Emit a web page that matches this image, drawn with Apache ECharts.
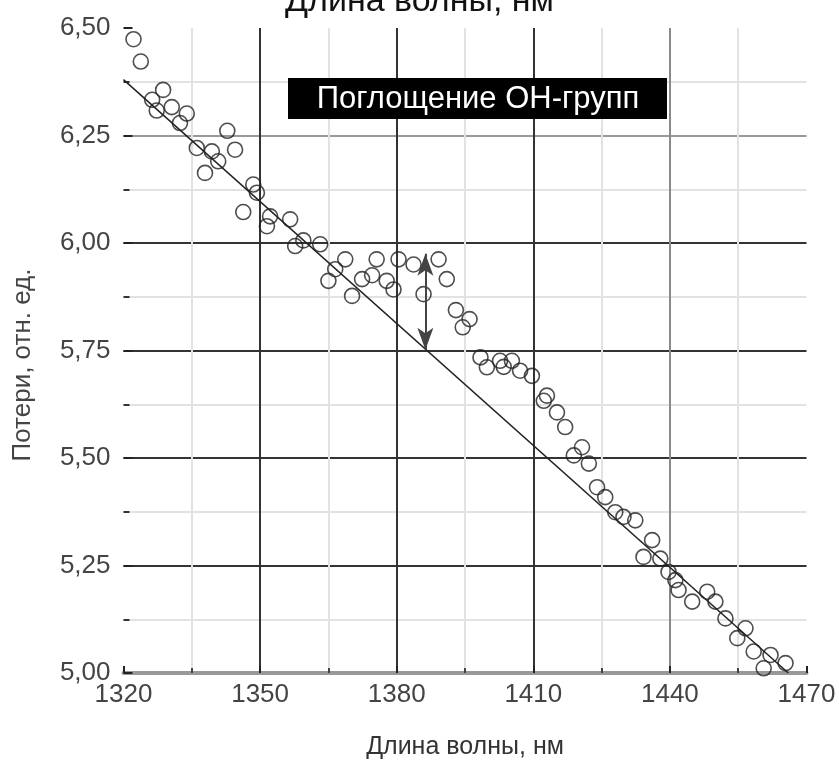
<!DOCTYPE html>
<html>
<head>
<meta charset="utf-8">
<script src="https://cdn.jsdelivr.net/npm/echarts@6/dist/echarts.min.js"></script>
<style>
html,body{margin:0;padding:0;background:#fff;}
#chart{width:839px;height:765px;}
</style>
</head>
<body>
<div id="chart"></div>
<script>
// ---- data ----
var titleText = 'Длина волны, нм';
var xAxisName = 'Длина волны, нм';
var yAxisName = 'Потери, отн. ед.';
var boxLabel = 'Поглощение ОН-групп';

var xTicks = [1320, 1350, 1380, 1410, 1440, 1470];
var yTicks = ['5,00', '5,25', '5,50', '5,75', '6,00', '6,25', '6,50'];

var measured = [
  [1322.2, 6.474], [1323.8, 6.422], [1328.7, 6.356], [1326.3, 6.333], [1327.3, 6.308],
  [1330.6, 6.316], [1333.9, 6.301], [1332.4, 6.279], [1342.8, 6.261], [1344.5, 6.217],
  [1339.4, 6.213], [1336.1, 6.221], [1340.8, 6.190], [1337.9, 6.163], [1348.5, 6.136],
  [1349.3, 6.117], [1346.3, 6.072], [1352.2, 6.062], [1356.6, 6.055], [1351.5, 6.039],
  [1359.5, 6.006], [1363.2, 5.997], [1357.7, 5.993], [1368.7, 5.962], [1366.5, 5.939],
  [1365.0, 5.912], [1375.6, 5.962], [1372.4, 5.916], [1374.6, 5.925], [1370.2, 5.877],
  [1377.8, 5.912], [1379.3, 5.892], [1380.4, 5.962], [1383.7, 5.950], [1389.2, 5.962],
  [1391.0, 5.916], [1385.9, 5.881], [1393.0, 5.844], [1396.0, 5.823], [1394.5, 5.804],
  [1398.4, 5.734], [1399.8, 5.711], [1402.7, 5.726], [1405.3, 5.726], [1403.5, 5.712],
  [1407.1, 5.703], [1409.7, 5.691], [1413.0, 5.645], [1412.3, 5.633], [1415.2, 5.606],
  [1417.0, 5.572], [1420.7, 5.525], [1418.9, 5.506], [1422.2, 5.487], [1424.0, 5.432],
  [1425.8, 5.409], [1428.0, 5.374], [1429.8, 5.363], [1432.4, 5.355], [1436.1, 5.309],
  [1434.2, 5.270], [1437.9, 5.266], [1439.7, 5.235], [1441.2, 5.216], [1441.9, 5.193],
  [1444.9, 5.166], [1448.2, 5.189], [1450.0, 5.166], [1452.2, 5.127], [1456.6, 5.104],
  [1454.8, 5.081], [1458.4, 5.050], [1462.1, 5.042], [1460.6, 5.011], [1465.4, 5.023]
];

var trendLine = [[1320, 6.38], [1466, 5.0]];

var arrowX = 1386.3;
var arrowTop = 5.975;
var arrowBottom = 5.752;

// ---- chart ----
var chart = echarts.init(document.getElementById('chart'), null, {renderer: 'canvas'});
var font = 'Liberation Sans, Arial, sans-serif';

var option = {
  animation: false,
  backgroundColor: '#fff',
  grid: {left: 123.5, right: 32.5, top: 28, bottom: 90, containLabel: false},
  xAxis: {
    type: 'value',
    min: xTicks[0],
    max: xTicks[xTicks.length - 1],
    interval: 30,
    name: xAxisName,
    nameLocation: 'middle',
    nameGap: 62,
    nameTextStyle: {fontFamily: font, fontSize: 25, color: '#333'},
    axisLine: {show: true, lineStyle: {color: '#999', width: 4}},
    axisTick: {show: true, inside: true, length: 7, lineStyle: {color: '#222', width: 2}},
    minorTick: {show: true, splitNumber: 2, length: 5, lineStyle: {color: '#444', width: 2}},
    axisLabel: {
      fontFamily: font, fontSize: 26, color: '#444', margin: 9,
      formatter: function (v) { return xTicks.indexOf(v) >= 0 ? String(v) : ''; }
    },
    splitLine: {show: true, lineStyle: {color: ['rgba(0,0,0,0)', '#333', '#333', '#333', '#8a8a8a', 'rgba(0,0,0,0)'], width: 2}},
    minorSplitLine: {show: true, lineStyle: {color: '#e2e2e2', width: 2}}
  },
  yAxis: {
    type: 'value',
    min: 5.0,
    max: 6.5,
    interval: 0.25,
    axisLine: {show: false},
    axisTick: {show: true, inside: true, length: 9, lineStyle: {color: '#222', width: 2}},
    minorTick: {show: true, splitNumber: 2, length: 6, lineStyle: {color: '#333', width: 2}},
    axisLabel: {
      fontFamily: font, fontSize: 26, color: '#444', margin: 13,
      padding: [0, 0, 9, 0],
      formatter: function (v) { var i = Math.round((v - 5) / 0.25); return yTicks[i] || ''; }
    },
    splitLine: {show: true, lineStyle: {color: ['rgba(0,0,0,0)', '#333', '#333', '#333', '#333', '#999', 'rgba(0,0,0,0)'], width: 2}},
    minorSplitLine: {show: true, lineStyle: {color: '#e2e2e2', width: 2}}
  },
  graphic: [
    {
      type: 'text', left: 'center', top: -15, z: 10,
      style: {text: titleText, fontFamily: font, fontSize: 34, fill: '#111'}
    },
    {
      type: 'text', z: 10,
      x: 23, y: 365, rotation: Math.PI / 2,
      style: {text: yAxisName, fontFamily: font, fontSize: 26, fill: '#444', align: 'center', verticalAlign: 'middle'}
    },
    {
      type: 'rect', z: 20,
      shape: {x: 288, y: 78, width: 379, height: 41},
      style: {fill: '#000'}
    },
    {
      type: 'text', z: 21,
      x: 478, y: 99,
      style: {text: boxLabel, fontFamily: font, fontSize: 31, fill: '#fff', align: 'center', verticalAlign: 'middle'}
    }
  ],
  series: [
    {
      type: 'line',
      data: trendLine,
      symbol: 'none',
      z: 2,
      lineStyle: {color: '#222', width: 1.5},
      markLine: {
        silent: true,
        symbol: ['arrow', 'arrow'],
        symbolSize: [12, 22],
        label: {show: false},
        lineStyle: {color: '#444', width: 2, type: 'solid'},
        data: [[{coord: [arrowX, arrowTop]}, {coord: [arrowX, arrowBottom]}]]
      }
    },
    {
      type: 'scatter',
      data: measured,
      symbol: 'circle',
      symbolSize: 15,
      z: 3,
      itemStyle: {color: 'rgba(0,0,0,0)', borderColor: '#222', borderWidth: 1.6}
    }
  ]
};
chart.setOption(option);
</script>
</body>
</html>
